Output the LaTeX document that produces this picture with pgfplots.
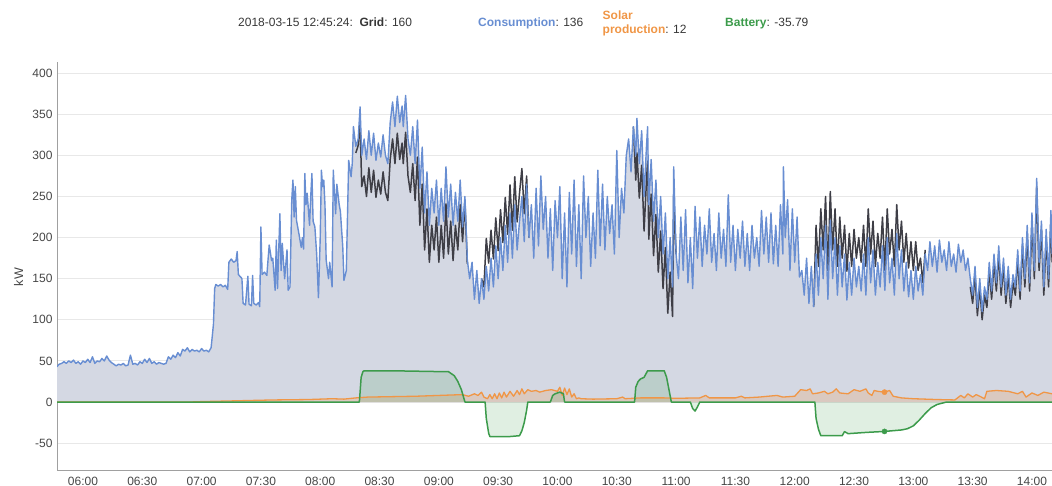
\documentclass[border=0pt]{standalone}
\usepackage{fontspec}
\setmainfont{Liberation Sans}
\usepackage{pgfplots}
\pgfplotsset{compat=1.18}
\usepackage{pgfplotstable}
\definecolor{consblue}{RGB}{104,142,210}
\definecolor{griddark}{RGB}{62,62,70}
\definecolor{solarorange}{RGB}{240,150,70}
\definecolor{battgreen}{RGB}{60,155,75}
\definecolor{areafill}{RGB}{212,216,227}
\definecolor{gridgray}{RGB}{232,232,232}
\definecolor{axisgray}{RGB}{160,160,160}
\definecolor{labelgray}{RGB}{70,70,70}
\definecolor{hdrgray}{RGB}{55,55,55}

\pgfplotstableread{
t c
5.78 43
5.80 46
5.82 47
5.84 49
5.86 47
5.88 50
5.90 48
5.92 51
5.94 47
5.96 49
5.98 46
6.00 50
6.02 48
6.04 52
6.06 48
6.08 55
6.10 47
6.12 50
6.14 49
6.16 53
6.18 50
6.20 56
6.22 51
6.24 48
6.26 46
6.28 44
6.30 46
6.32 45
6.34 47
6.36 44
6.38 45
6.40 57
6.42 46
6.44 47
6.46 45
6.48 49
6.50 47
6.52 52
6.54 48
6.56 53
6.58 47
6.60 49
6.62 46
6.64 48
6.66 47
6.68 46
6.70 47
6.72 55
6.74 52
6.76 57
6.78 54
6.80 60
6.82 56
6.84 64
6.86 62
6.88 66
6.90 61
6.92 64
6.94 62
6.96 63
6.98 61
7.00 65
7.02 62
7.04 63
7.06 61
7.08 66
7.09 80
7.10 95
7.11 138
7.12 143
7.14 141
7.16 143
7.18 140
7.20 142
7.22 137
7.23 170
7.25 174
7.27 170
7.29 172
7.30 183
7.31 155
7.33 152
7.34 150
7.35 120
7.37 118
7.39 153
7.40 119
7.42 117
7.43 154
7.44 120
7.46 118
7.48 121
7.49 116
7.50 213
7.51 155
7.53 158
7.55 154
7.56 173
7.57 191
7.59 172
7.60 175
7.62 136
7.63 197
7.64 138
7.66 229
7.67 160
7.68 193
7.70 150
7.72 185
7.73 136
7.745 140
7.76 246
7.77 270
7.78 225
7.79 262
7.80 221
7.82 205
7.84 188
7.85 200
7.86 186
7.87 278
7.88 240
7.89 254
7.91 215
7.92 250
7.93 278
7.94 220
7.955 213
7.97 180
7.985 127
8.00 200
8.01 282
8.02 262
8.03 270
8.04 240
8.05 173
8.07 150
8.08 170
8.10 140
8.11 282
8.13 229
8.14 265
8.16 240
8.17 232
8.19 189
8.20 148
8.22 160
8.24 294
8.26 274
8.27 290
8.28 335
8.30 311
8.32 320
8.336 359
8.35 300
8.37 320
8.39 295
8.41 330
8.43 300
8.45 327
8.47 294
8.49 315
8.51 298
8.53 325
8.55 300
8.57 290
8.59 340
8.61 365
8.63 335
8.65 372
8.67 340
8.69 360
8.70 335
8.72 373
8.74 320
8.76 300
8.78 335
8.80 290
8.82 343
8.84 260
8.86 310
8.88 230
8.90 280
8.92 215
8.94 260
8.96 230
8.98 270
9.00 215
9.02 260
9.04 220
9.06 286
9.08 225
9.10 265
9.12 215
9.14 255
9.16 220
9.18 270
9.20 213
9.22 250
9.24 173
9.26 150
9.28 170
9.30 125
9.32 160
9.34 120
9.36 150
9.38 125
9.40 165
9.42 135
9.44 175
9.46 140
9.48 190
9.50 150
9.52 200
9.54 160
9.56 215
9.58 170
9.60 230
9.62 175
9.64 240
9.66 185
9.68 220
9.70 250
9.72 195
9.74 265
9.76 200
9.78 240
9.80 175
9.82 260
9.84 190
9.86 275
9.88 210
9.90 250
9.92 175
9.94 235
9.96 160
9.98 245
10.00 200
10.02 262
10.04 150
10.06 230
10.08 140
10.10 255
10.12 180
10.14 270
10.16 165
10.18 240
10.20 150
10.22 275
10.24 200
10.26 250
10.28 165
10.30 230
10.32 175
10.34 282
10.36 190
10.38 265
10.40 185
10.42 250
10.44 205
10.46 240
10.48 180
10.50 306
10.52 200
10.54 260
10.56 230
10.58 300
10.60 320
10.62 280
10.64 335
10.66 300
10.67 345
10.69 290
10.71 330
10.73 250
10.75 310
10.76 335
10.77 240
10.79 295
10.81 220
10.83 270
10.85 200
10.87 250
10.89 180
10.91 230
10.93 150
10.95 200
10.97 140
10.98 286
11.00 180
11.02 150
11.04 225
11.06 160
11.08 234
11.10 145
11.12 200
11.14 138
11.16 238
11.18 175
11.20 225
11.22 165
11.24 215
11.26 180
11.28 235
11.30 170
11.32 205
11.34 160
11.36 230
11.38 175
11.40 210
11.42 165
11.44 252
11.46 170
11.48 215
11.50 160
11.52 210
11.54 175
11.56 220
11.58 165
11.60 205
11.62 160
11.64 215
11.66 175
11.68 200
11.70 165
11.72 233
11.74 180
11.76 225
11.78 170
11.80 230
11.82 168
11.84 215
11.86 165
11.88 240
11.90 180
11.905 286
11.92 200
11.94 246
11.96 160
11.98 235
12.00 170
12.02 225
12.04 152
12.06 160
12.08 130
12.10 175
12.12 120
12.14 165
12.16 116
12.18 180
12.20 130
12.22 200
12.24 150
12.26 215
12.28 125
12.30 221
12.32 150
12.34 200
12.36 130
12.38 190
12.40 140
12.42 180
12.44 124
12.46 170
12.48 130
12.50 175
12.52 140
12.54 165
12.56 135
12.58 180
12.60 130
12.62 200
12.64 145
12.66 185
12.68 130
12.70 170
12.72 140
12.74 190
12.76 136
12.78 200
12.80 145
12.82 175
12.84 130
12.86 205
12.88 150
12.90 185
12.92 135
12.94 170
12.96 128
12.98 160
13.00 125
13.02 165
13.04 135
13.06 155
13.08 130
13.10 180
13.12 160
13.14 195
13.16 165
13.18 190
13.20 158
13.22 197
13.24 170
13.26 185
13.28 160
13.30 195
13.32 165
13.34 180
13.36 158
13.38 192
13.40 170
13.42 185
13.44 160
13.46 175
13.48 150
13.50 130
13.52 165
13.54 115
13.56 150
13.58 110
13.60 140
13.62 125
13.64 170
13.66 135
13.68 180
13.70 145
13.72 190
13.74 140
13.76 175
13.78 130
13.80 165
13.82 125
13.84 155
13.86 140
13.88 185
13.90 135
13.92 200
13.94 150
13.96 215
13.98 145
14.00 230
14.02 160
14.04 272
14.06 170
14.08 220
14.10 140
14.12 210
14.14 150
14.16 233
14.17 180
}\cons

\pgfplotstableread{
t g
8.30 303
8.32 312
8.336 340
8.35 262
8.37 275
8.39 250
8.41 285
8.43 255
8.45 282
8.47 249
8.49 270
8.51 253
8.53 280
8.55 255
8.57 245
8.59 295
8.61 320
8.63 290
8.65 327
8.67 295
8.69 315
8.70 290
8.72 328
8.74 275
8.76 255
8.78 290
8.80 245
8.82 298
8.84 215
8.86 265
8.88 185
8.90 235
8.92 170
8.94 215
8.96 185
8.98 225
9.00 170
9.02 215
9.04 175
9.06 241
9.08 180
9.10 220
9.12 172
9.14 215
9.16 185
9.18 240
9.20 195
9.22 245
9.24 168
9.25 nan
9.36 150
9.38 140
9.40 199
9.42 169
9.44 209
9.46 174
9.48 224
9.50 184
9.52 234
9.54 194
9.56 249
9.58 204
9.60 264
9.62 209
9.64 274
9.66 219
9.68 254
9.70 284
9.72 229
9.74 275
9.76 200
9.77 nan
10.64 335
10.66 270
10.67 303
10.69 248
10.71 288
10.73 208
10.75 268
10.76 293
10.77 198
10.79 253
10.81 178
10.83 228
10.85 158
10.87 208
10.89 138
10.91 188
10.93 108
10.95 158
10.97 104
10.98 250
11.00 180
11.01 nan
12.16 116
12.18 215
12.20 165
12.22 235
12.24 185
12.26 250
12.28 160
12.30 256
12.32 185
12.34 235
12.36 165
12.38 225
12.40 175
12.42 215
12.44 159
12.46 205
12.48 165
12.50 210
12.52 175
12.54 200
12.56 170
12.58 215
12.60 165
12.62 235
12.64 180
12.66 220
12.68 165
12.70 205
12.72 175
12.74 225
12.76 160
12.78 235
12.80 180
12.82 210
12.84 165
12.86 240
12.88 185
12.90 220
12.92 170
12.94 205
12.96 163
12.98 195
13.00 160
13.02 195
13.04 160
13.06 175
13.08 145
13.10 185
13.11 nan
13.48 140
13.50 120
13.52 155
13.54 105
13.56 140
13.58 100
13.60 130
13.62 115
13.64 160
13.66 125
13.68 170
13.70 135
13.72 180
13.74 130
13.76 165
13.78 120
13.80 155
13.82 115
13.84 145
13.86 130
13.88 175
13.90 125
13.92 190
13.94 140
13.96 205
13.98 135
14.00 220
14.02 150
14.04 262
14.06 160
14.08 210
14.10 130
14.12 200
14.14 140
14.16 223
14.17 170
}\grid

\pgfplotstableread{
t s
5.78 0
6.90 0
7.00 0.5
7.30 1.5
7.60 2.5
7.90 3
8.10 4
8.20 3.5
8.30 5
8.40 6
8.60 6.5
8.80 7
9.00 8
9.10 8.5
9.20 9
9.25 7
9.30 10
9.33 8
9.36 12
9.38 6
9.41 4
9.43 9
9.45 4
9.47 10
9.49 4
9.51 11
9.53 5
9.55 12
9.57 6
9.60 13
9.63 7
9.66 14
9.68 9
9.70 16
9.72 10
9.75 15
9.78 13
9.82 14
9.85 12
9.90 14
9.95 15
10.00 13
10.02 18
10.04 8
10.06 17
10.08 9
10.10 16
10.12 6
10.14 10
10.16 4
10.18 5
10.20 4
10.30 3.5
10.50 4
10.55 6
10.57 4
10.70 5
10.90 5
11.00 4.5
11.20 5
11.25 8
11.28 5
11.50 5
11.55 7
11.58 5
11.70 6
11.85 8
11.90 6
12.00 7
12.05 15
12.10 14
12.13 16
12.15 10
12.20 11
12.25 13
12.28 10
12.32 12
12.35 16
12.38 11
12.45 10
12.50 15
12.55 13
12.60 16
12.62 11
12.65 8
12.67 14
12.70 13
12.757 12
12.80 14
12.83 7
12.90 5
13.00 4
13.20 3
13.35 2.5
13.40 8
13.43 5
13.46 10
13.50 6
13.53 9
13.56 7
13.60 4
13.62 13
13.70 14
13.80 13
13.88 10
13.92 13
13.95 6
14.00 11
14.05 8
14.10 12
14.17 10
}\solar

\pgfplotstableread{
t b
5.78 0
8.33 0
8.345 30
8.36 37
8.37 38
8.60 38
8.80 37.5
9.00 37
9.08 37
9.10 35
9.13 32
9.16 25
9.19 15
9.21 5
9.22 0
9.39 0
9.40 -20
9.42 -38
9.43 -42
9.60 -42
9.68 -41
9.70 -35
9.72 -25
9.74 -10
9.75 0
9.94 0
9.96 8
9.98 10
10.02 12
10.05 10
10.06 0
10.65 0
10.66 18
10.68 25
10.70 28
10.73 30
10.76 38
10.90 38
10.92 30
10.94 15
10.96 0
11.12 0
11.14 -8
11.16 -11
11.18 -6
11.20 0
12.17 0
12.18 -20
12.20 -33
12.22 -41
12.40 -41
12.42 -36
12.45 -38.5
12.60 -37
12.757 -35.79
12.90 -34
12.95 -32.5
13.00 -29
13.05 -22
13.10 -14
13.15 -7
13.20 -3
13.28 0
14.17 0
}\batt

\begin{document}
\begin{tikzpicture}[x=1pt,y=1pt]
\path[use as bounding box] (0,0) rectangle (1052,486);
\begin{axis}[
  at={(57pt,16pt)}, anchor=south west,
  width=995pt, height=408pt, scale only axis,
  xmin=5.781, xmax=14.169, ymin=-82.7, ymax=413.6,
  axis x line*=bottom, axis y line*=left,
  axis line style={draw=axisgray, line width=0.9pt, -},
  xtick={6,6.5,7,7.5,8,8.5,9,9.5,10,10.5,11,11.5,12,12.5,13,13.5,14},
  xticklabels={06:00,06:30,07:00,07:30,08:00,08:30,09:00,09:30,10:00,10:30,11:00,11:30,12:00,12:30,13:00,13:30,14:00},
  ytick={-50,0,50,100,150,200,250,300,350,400},
  yticklabels={-50,0,50,100,150,200,250,300,350,400},
  major tick length=0pt,
  ymajorgrids, grid style={draw=gridgray, line width=0.9pt},
  tick label style={font=\fontsize{12}{14}\selectfont, text=labelgray},
  xticklabel style={yshift=-3.5pt},
  yticklabel style={xshift=-1pt},
  unbounded coords=jump,
  clip=true,
]
\addplot[draw=none, fill=areafill] table[x=t,y=c]{\cons} \closedcycle;
\addplot[draw=none, fill=solarorange, fill opacity=0.22] table[x=t,y=s]{\solar} \closedcycle;
\addplot[draw=none, fill=battgreen, fill opacity=0.16] table[x=t,y=b]{\batt} \closedcycle;
\addplot[griddark, line width=1.5pt, line join=round] table[x=t,y=g]{\grid};
\addplot[consblue, line width=1.4pt, line join=round] table[x=t,y=c]{\cons};
\addplot[solarorange, line width=1.3pt, line join=round] table[x=t,y=s]{\solar};
\addplot[battgreen, line width=1.5pt, line join=round] table[x=t,y=b]{\batt};
\addplot[only marks, mark=*, mark size=2.6pt, solarorange] coordinates {(12.757,12)};
\addplot[only marks, mark=*, mark size=2.6pt, battgreen] coordinates {(12.757,-35.79)};
\end{axis}
\node[rotate=90, font=\fontsize{12.5}{14}\selectfont, text=labelgray] at (18.5,209) {kW};
\begin{scope}[every node/.style={inner sep=0pt, font=\fontsize{12}{14}\selectfont, text=hdrgray}]
\node[anchor=base west] at (238,459.5) {2018-03-15 12:45:24:\ \ \textbf{Grid}: 160};
\node[anchor=base west] at (478,459.5) {\textcolor{consblue}{\textbf{Consumption}}: 136};
\node[anchor=base west] at (602.5,466) {\textcolor{solarorange}{\textbf{Solar}}};
\node[anchor=base west] at (602.5,452) {\textcolor{solarorange}{\textbf{production}}: 12};
\node[anchor=base west] at (725,459.5) {\textcolor{battgreen}{\textbf{Battery}}: -35.79};
\end{scope}
\end{tikzpicture}
\end{document}
